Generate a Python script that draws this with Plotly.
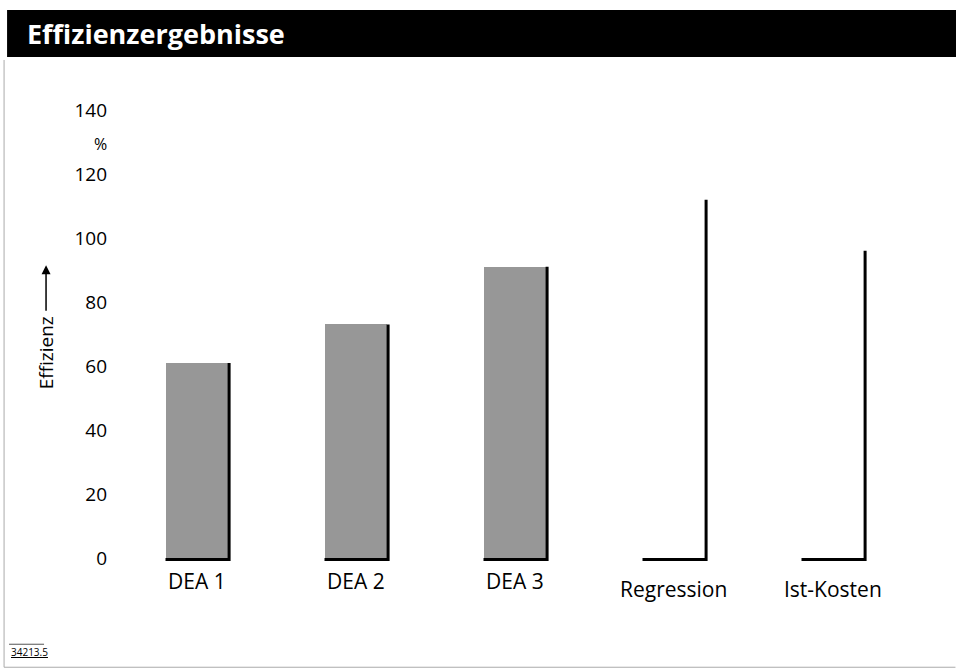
import plotly.graph_objects as go

# ---- data ----
categories = ["DEA 1", "DEA 2", "DEA 3", "Regression", "Ist-Kosten"]
efficiency = [61, 73, 91, 112, 96]
y_ticks = [0, 20, 40, 60, 80, 100, 120, 140]

# ---- style ----
filled = [True, True, True, False, False]
label_drop = [0, 0, 0, 8, 8]
bar_w = 0.39
font_fam = "Open Sans, Lato, DejaVu Sans, sans-serif"

# pixel -> paper helpers (plot area: x 117..912.5, y 110..563)
L, R, T, B = 117, 912.5, 110, 562.8
Y_MIN, Y_MAX = -1.5, 140
def px(xp):
    return (xp - L) / (R - L)
def py(yp):
    return (B - yp) / (B - T)

xs = list(range(len(categories)))
fig = go.Figure()

fig.add_trace(go.Bar(
    x=xs, y=efficiency, width=bar_w,
    marker=dict(color=["#979797" if f else "rgba(0,0,0,0)" for f in filled],
                line=dict(width=0)),
    hoverinfo="skip", showlegend=False,
))

# shadow edges (right + bottom) for each bar
for x, v in zip(xs, efficiency):
    fig.add_trace(go.Scatter(
        x=[x - bar_w / 2, x + bar_w / 2 + 0.01, x + bar_w / 2 + 0.01],
        y=[-0.4, -0.4, v],
        mode="lines", line=dict(color="black", width=3),
        hoverinfo="skip", showlegend=False,
    ))

annotations = [
    dict(text="<b>Effizienzergebnisse</b>", xref="paper", yref="paper",
         x=px(25), y=py(34), xanchor="left", yanchor="middle",
         showarrow=False, font=dict(size=27, color="white", family=font_fam)),
    dict(text="%", xref="paper", yref="y", x=px(109), y=129.5,
         xanchor="right", yanchor="middle", showarrow=False,
         font=dict(size=16)),
    dict(text="Effizienz", xref="paper", yref="y", x=px(46), y=64,
         textangle=-90, xanchor="center", yanchor="middle",
         showarrow=False, font=dict(size=19)),
    dict(text="", xref="paper", yref="y", x=px(46), y=91.5,
         showarrow=True, ax=0, ay=47, arrowhead=2, arrowsize=1.2,
         arrowwidth=1.5, arrowcolor="black"),
    dict(text="<u>34213.5</u>", xref="paper", yref="paper",
         x=px(9), y=py(652), xanchor="left", yanchor="middle",
         showarrow=False, font=dict(size=10)),
]
for x, c, d in zip(xs, categories, label_drop):
    annotations.append(dict(
        text=c, xref="x", yref="paper", x=x, y=0, yanchor="top",
        yshift=-(2 + d), showarrow=False, font=dict(size=21)))

fig.update_layout(
    width=956, height=671,
    margin=dict(l=L, r=956 - R, t=T, b=671 - B),
    paper_bgcolor="white", plot_bgcolor="white",
    font=dict(family=font_fam, color="black"),
    xaxis=dict(range=[-0.5, len(categories) - 0.5], showticklabels=False,
               showgrid=False, zeroline=False, showline=False, ticks=""),
    yaxis=dict(range=[Y_MIN, Y_MAX], tickmode="array", tickvals=y_ticks,
               ticktext=[str(t) for t in y_ticks], showgrid=False,
               zeroline=False, showline=False, ticks="",
               tickfont=dict(size=19), ticklabelstandoff=9),
    shapes=[
        dict(type="rect", xref="paper", yref="paper",
             x0=px(7), x1=px(960), y0=py(57), y1=py(10),
             fillcolor="black", line=dict(width=0), layer="below"),
        dict(type="line", xref="paper", yref="paper",
             x0=px(4), x1=px(4), y0=py(60), y1=py(667),
             line=dict(color="#aaaaaa", width=1)),
        dict(type="line", xref="paper", yref="paper",
             x0=px(4), x1=px(956), y0=py(667), y1=py(667),
             line=dict(color="#aaaaaa", width=1)),
        dict(type="line", xref="paper", yref="paper",
             x0=px(9), x1=px(44), y0=py(644), y1=py(644),
             line=dict(color="#555555", width=1)),
    ],
    annotations=annotations,
    bargap=0,
)

fig.write_html("out.html", config={"displayModeBar": False},
               post_script="document.body.style.margin='0';")
